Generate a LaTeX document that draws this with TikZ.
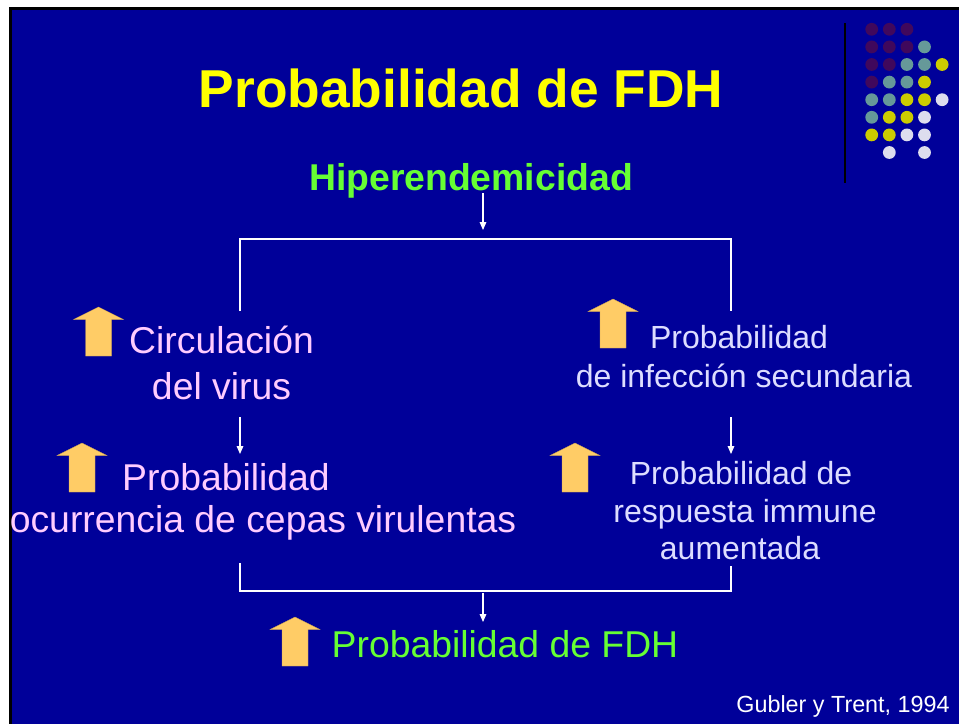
\documentclass[tikz,border=0pt]{standalone}
\usepackage{fontspec}
\setmainfont{Liberation Sans}
\usetikzlibrary{arrows.meta}
\definecolor{bgblue}{RGB}{0,0,153}
\definecolor{titleyellow}{RGB}{255,255,0}
\definecolor{hgreen}{RGB}{102,255,51}
\definecolor{lpink}{RGB}{255,204,255}
\definecolor{rlav}{RGB}{221,221,255}
\definecolor{blockor}{RGB}{255,204,102}
\definecolor{dpurple}{RGB}{64,8,92}
\definecolor{dteal}{RGB}{102,153,153}
\definecolor{dyellow}{RGB}{204,204,0}
\definecolor{dlav}{RGB}{221,221,238}
\tikzset{
  conn/.style={draw=white, line width=0.8pt},
  connarrow/.style={conn, -{Triangle[width=5pt,length=6pt]}},
  txt/.style={anchor=base, inner sep=0pt},
  blockarrow/.pic={
    \fill[blockor, draw=blockor!80!black, line width=0.3pt]
      (0,0) -- (25,12.5) -- (13,12.5) -- (13,49) -- (-13,49) -- (-13,12.5) -- (-25,12.5) -- cycle;
  },
  dot/.style={radius=6.4}
}
\begin{document}
\begin{tikzpicture}[x=0.75pt,y=-0.75pt]
% background and frame
\fill[white] (0,0) rectangle (959,724);
\fill[black] (9,7) rectangle (959,724);
\fill[bgblue] (12,10) rectangle (959,724);

% decorative corner
\fill[black] (844,23) rectangle (846,183);
\foreach \c/\x/\y in {
  dpurple/0/0, dpurple/1/0, dpurple/2/0,
  dpurple/0/1, dpurple/1/1, dpurple/2/1, dteal/3/1,
  dpurple/0/2, dpurple/1/2, dteal/2/2, dteal/3/2, dyellow/4/2,
  dpurple/0/3, dteal/1/3, dteal/2/3, dyellow/3/3,
  dteal/0/4, dteal/1/4, dyellow/2/4, dyellow/3/4, dlav/4/4,
  dteal/0/5, dyellow/1/5, dyellow/2/5, dlav/3/5,
  dyellow/0/6, dyellow/1/6, dlav/2/6, dlav/3/6,
  dlav/1/7, dlav/3/7}
  \fill[\c] ({871.7+17.6*\x},{29.3+17.6*\y}) circle[dot];

% title
\node[txt, text=titleyellow, font=\fontsize{40}{46}\selectfont\bfseries] (title) at (461,107) {Probabilidad de FDH};
\node[txt, text=hgreen, font=\fontsize{28}{33}\selectfont\bfseries] (hiper) at (471,190) {Hiperendemicidad};

% left column
\node[txt, text=lpink, font=\fontsize{28}{34}\selectfont] (circ1) at (221.5,353) {Circulación};
\node[txt, text=lpink, font=\fontsize{28}{34}\selectfont] (circ2) at (221.5,399) {del virus};
\node[txt, text=lpink, font=\fontsize{28}{34}\selectfont] (cep1) at (226,490) {Probabilidad};
\node[txt, text=lpink, font=\fontsize{28}{34}\selectfont] (cep2) at (263,532) {ocurrencia de cepas virulentas};

% right column
\node[txt, text=rlav, font=\fontsize{24}{29}\selectfont] (inf1) at (739,348) {Probabilidad};
\node[txt, text=rlav, font=\fontsize{24}{29}\selectfont] (inf2) at (744,387) {de infección secundaria};
\node[txt, text=rlav, font=\fontsize{24}{29}\selectfont] (res1) at (741,484) {Probabilidad de};
\node[txt, text=rlav, font=\fontsize{24}{29}\selectfont] (res2) at (745,522) {respuesta immune};
\node[txt, text=rlav, font=\fontsize{24}{29}\selectfont] (res3) at (740,559) {aumentada};

% bottom
\node[txt, text=hgreen, font=\fontsize{28}{34}\selectfont] (fdh) at (505,657) {Probabilidad de FDH};
\node[txt, text=white, font=\fontsize{17.5}{21}\selectfont] (ref) at (843,712) {Gubler y Trent, 1994};

% block arrows
\pic (ba1) at (98.5,307) {blockarrow};
\pic (ba2) at (82,443) {blockarrow};
\pic (ba3) at (613,299) {blockarrow};
\pic (ba4) at (575,443) {blockarrow};
\pic (ba5) at (295,617) {blockarrow};

% connector coordinates
\coordinate (hA) at (483,193);
\coordinate (hB) at (483,230);
\coordinate (tl) at (240,311);
\coordinate (tlc) at (240,239);
\coordinate (trc) at (731,239);
\coordinate (tr) at (731,311);
\coordinate (lA) at (240,417);
\coordinate (lB) at (240,454);
\coordinate (rA) at (731,417);
\coordinate (rB) at (731,454);
\coordinate (bl) at (240,563);
\coordinate (blc) at (240,591);
\coordinate (brc) at (731,591);
\coordinate (br) at (731,566);
\coordinate (bA) at (483,593);
\coordinate (bB) at (483,622);

\draw[connarrow] (hA) -- (hB);
\draw[conn] (tl) -- (tlc) -- (trc) -- (tr);
\draw[connarrow] (lA) -- (lB);
\draw[connarrow] (rA) -- (rB);
\draw[conn] (bl) -- (blc) -- (brc) -- (br);
\draw[connarrow] (bA) -- (bB);
\end{tikzpicture}
\end{document}
